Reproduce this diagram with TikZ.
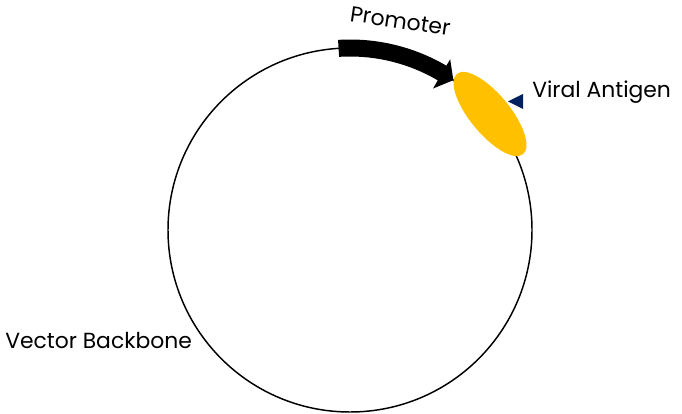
\documentclass[tikz,border=0pt]{standalone}
\usepackage{fontspec}
\setmainfont{Poppins}
\usetikzlibrary{shapes.geometric}
\definecolor{antigen}{HTML}{FFC000}
\definecolor{navyblue}{HTML}{002060}
\tikzset{
  lbl/.style={font=\fontsize{16.4}{19}\selectfont, inner sep=0pt, text=black},
  backbone/.style={line width=1.1pt, draw=black},
}
\begin{document}
\begin{tikzpicture}[x=0.75pt,y=0.75pt]
\useasboundingbox (0,0) rectangle (682,414);
\coordinate (C) at (350,184);
% plasmid circle
\draw[backbone] (C) circle[radius=182];
% promoter arrow
\begin{scope}[shift={(C)}]
\fill[black] (93.6:190.5) arc[start angle=93.6, end angle=59.6, radius=190.5]
  -- (59.6:198) -- (55.4:182) -- (59.6:164) -- (59.6:173.5)
  arc[start angle=59.6, end angle=93.6, radius=173.5] -- cycle;
\end{scope}
% viral antigen
\node[ellipse, fill=antigen, minimum width=104*0.75pt, minimum height=40*0.75pt,
      inner sep=0pt, rotate=-50.5] (ag) at (490,300) {};
\fill[navyblue] (508,312.5) -- (523,320) -- (523,305) -- cycle;
% labels
\node[lbl, anchor=base west] (lva) at (532,316) {Viral Antigen};
\node[lbl, anchor=base west, rotate=-8.5] (lpr) at (349,393) {Promoter};
\node[lbl, anchor=base west] (lvb) at (5,65) {Vector Backbone};
\end{tikzpicture}
\end{document}
